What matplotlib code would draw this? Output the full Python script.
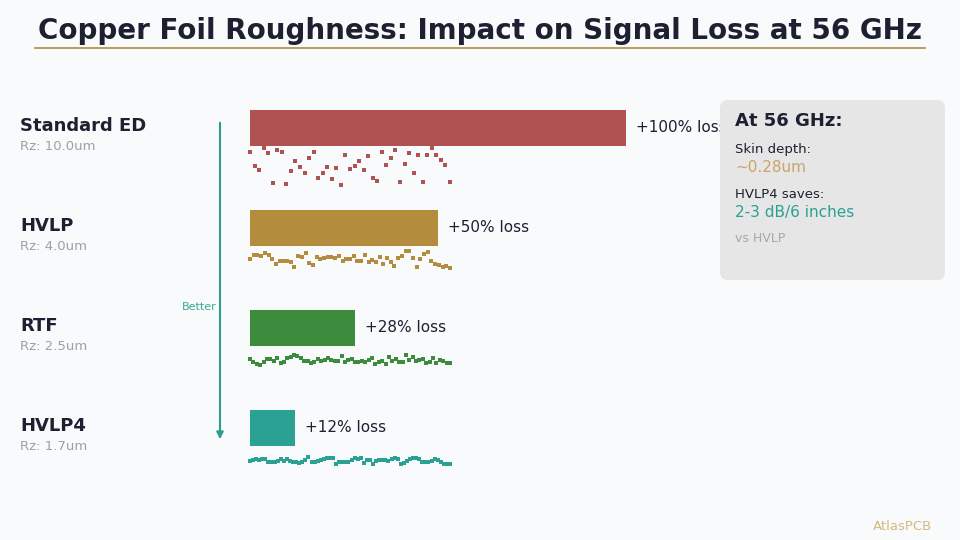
import numpy as np
import matplotlib
matplotlib.use("Agg")
import matplotlib.pyplot as plt
from matplotlib.patches import FancyBboxPatch

# ---- data ----
foils = ["Standard ED", "HVLP", "RTF", "HVLP4"]
rz_um = [10.0, 4.0, 2.5, 1.7]
loss_pct = [100, 50, 28, 12]
colors = ["#b05252", "#b38c3e", "#3d8b3d", "#2aa193"]

title = "Copper Foil Roughness: Impact on Signal Loss at 56 GHz"
bg = "#f8fafc"
dark = "#1c2030"

fig = plt.figure(figsize=(9.6, 5.4), dpi=100, facecolor=bg)
ax = fig.add_axes([0, 0, 1, 1])
ax.set_xlim(0, 960)
ax.set_ylim(540, 0)
ax.axis("off")
ax.set_facecolor(bg)

# title
ax.text(480, 31, title, ha="center", va="center", fontsize=20, fontweight="bold", color=dark)
ax.plot([35, 925], [48, 48], color="#b8944f", lw=1.3)

x0 = 250
px_per_pct = 3.76
row_y = [128, 228, 328, 428]
bar_h = 36

# roughness texture (decorative): vertical band below the bar, scaled with Rz
tex_top = [1, 4, 7, 11]
tex_bot = [40, 22, 21, 18]
tex_n = [45, 55, 60, 66]

rng = np.random.default_rng(11)
for i, (name, rz, loss, c) in enumerate(zip(foils, rz_um, loss_pct, colors)):
    yc = row_y[i]
    ax.barh(yc, loss * px_per_pct, left=x0, height=bar_h, color=c, zorder=2)
    ax.text(x0 + loss * px_per_pct + 10, yc, f"+{loss}% loss", ha="left", va="center",
            fontsize=11, color=dark, zorder=3)
    ax.text(20, yc - 2, name, ha="left", va="center", fontsize=13, fontweight="bold", color=dark)
    ax.text(20, yc + 18, f"Rz: {rz}um", ha="left", va="center", fontsize=9.5, color="#a0a0a0")
    n = tex_n[i]
    xs = x0 + np.linspace(0, 200, n)
    lo = yc + bar_h / 2 + tex_top[i]
    hi = yc + bar_h / 2 + tex_bot[i]
    if i == 0:
        ys = lo + rng.random(n) * (hi - lo)
    else:
        # wavy random walk
        mid = (lo + hi) / 2
        half = (hi - lo) / 2
        w = np.cumsum(rng.normal(0, half * 0.45, n))
        w = w - np.convolve(w, np.ones(9) / 9, mode="same")
        ys = np.clip(mid + w + rng.normal(0, half * 0.25, n), lo, hi)
    ax.scatter(xs, ys, marker="s", s=6, color=c, linewidths=0, zorder=2)

# arrow "Better"
ax.annotate("", xy=(220, 442), xytext=(220, 120),
            arrowprops=dict(arrowstyle="-|>", color="#2a9d8f", lw=1.5, mutation_scale=10))
ax.text(217, 307, "Better", ha="right", va="center", fontsize=8, color="#3aa896")

# info box
box = FancyBboxPatch((720, 100), 225, 180, boxstyle="round,pad=0,rounding_size=8",
                     facecolor="#e6e6e6", edgecolor="none", zorder=5)
ax.add_patch(box)
ax.text(735, 121, "At 56 GHz:", ha="left", va="center", fontsize=13, fontweight="bold", color=dark, zorder=6)
ax.text(735, 149, "Skin depth:", ha="left", va="center", fontsize=9.5, color=dark, zorder=6)
ax.text(735, 168, "~0.28um", ha="left", va="center", fontsize=11, color="#c9a46a", zorder=6)
ax.text(735, 194, "HVLP4 saves:", ha="left", va="center", fontsize=9.5, color=dark, zorder=6)
ax.text(735, 213, "2-3 dB/6 inches", ha="left", va="center", fontsize=11, color="#2aa193", zorder=6)
ax.text(735, 239, "vs HVLP", ha="left", va="center", fontsize=9, color="#a8a8a8", zorder=6)

ax.text(932, 527, "AtlasPCB", ha="right", va="center", fontsize=9.5, color="#d6b87e")

fig.savefig("out.png", dpi=100, facecolor=bg)
